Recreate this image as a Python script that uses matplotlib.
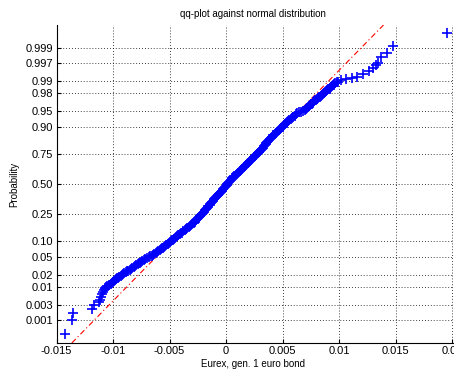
import math
import matplotlib
matplotlib.use('Agg')
import matplotlib.pyplot as plt

plt.rcParams['font.family'] = ['Liberation Sans', 'DejaVu Sans']

# sorted returns (x) and their standard normal quantiles (y position of normplot)
ret = [-0.01425, -0.01366, -0.01351, -0.01183, -0.01168, -0.01121, -0.01115, -0.01109,
       -0.01095, -0.01088,
       -0.01080, -0.01068, -0.01050, -0.01020, -0.01001, -0.00985, -0.00965, -0.00943,
       -0.00922, -0.00900, -0.00877, -0.00853, -0.00830, -0.00806, -0.00783, -0.00762,
       -0.00740, -0.00713, -0.00684, -0.00657, -0.00633, -0.00610, -0.00588, -0.00568,
       -0.00547, -0.00527, -0.00508, -0.00489, -0.00470, -0.00451, -0.00431, -0.00411,
       -0.00392, -0.00366, -0.00341, -0.00318, -0.00297, -0.00277, -0.00258, -0.00240,
       -0.00224, -0.00207, -0.00189, -0.00172, -0.00155, -0.00138, -0.00122, -0.00105,
       -0.00088, -0.00071, -0.00055, -0.00038, -0.00020, -0.00003, 0.00013, 0.00030,
       0.00048, 0.00066, 0.00085, 0.00105, 0.00125, 0.00145, 0.00164, 0.00183,
       0.00203, 0.00224, 0.00245, 0.00266, 0.00286, 0.00304, 0.00320, 0.00335,
       0.00350, 0.00366, 0.00382, 0.00400, 0.00420, 0.00440, 0.00460, 0.00480,
       0.00500, 0.00520, 0.00539, 0.00560, 0.00583, 0.00607, 0.00632, 0.00660,
       0.00695, 0.00715, 0.00733, 0.00750, 0.00766, 0.00783, 0.00801, 0.00820,
       0.00840, 0.00860, 0.00879, 0.00898, 0.00916, 0.00933, 0.00950, 0.00968,
       0.00995, 0.01022,
       0.01060, 0.01112, 0.01162, 0.01215, 0.01268, 0.01304, 0.01327, 0.01342,
       0.01372, 0.01422, 0.01475, 0.01958,
       # points lying between the ones above inside the dense band
       -0.01074, -0.01060, -0.01035, -0.01010, -0.00993, -0.00975, -0.00954, -0.00932,
       -0.00911, -0.00889, -0.00865, -0.00841, -0.00818, -0.00794, -0.00772, -0.00751,
       -0.00727, -0.00698, -0.00670, -0.00645, -0.00621, -0.00599, -0.00578, -0.00557,
       -0.00537, -0.00517, -0.00498, -0.00479, -0.00460, -0.00441, -0.00421, -0.00401,
       -0.00379, -0.00353, -0.00329, -0.00307, -0.00287, -0.00267, -0.00249, -0.00232,
       -0.00215, -0.00198, -0.00180, -0.00163, -0.00146, -0.00130, -0.00113, -0.00096,
       -0.00079, -0.00063, -0.00046, -0.00029, -0.00011, 0.00005, 0.00021, 0.00039,
       0.00057, 0.00075, 0.00095, 0.00115, 0.00135, 0.00155, 0.00173, 0.00193,
       0.00213, 0.00234, 0.00255, 0.00276, 0.00295, 0.00312, 0.00327, 0.00342,
       0.00358, 0.00374, 0.00391, 0.00410, 0.00430, 0.00450, 0.00470, 0.00490,
       0.00510, 0.00530, 0.00549, 0.00571, 0.00595, 0.00619, 0.00646, 0.00678,
       0.00705, 0.00724, 0.00741, 0.00758, 0.00774, 0.00792, 0.00810, 0.00830,
       0.00850, 0.00869, 0.00888, 0.00907, 0.00924, 0.00941, 0.00959, 0.00980]
quant = [-3.40, -3.08, -2.93, -2.83, -2.75, -2.68, -2.62, -2.56,
         -2.49, -2.44,
         -2.40, -2.35, -2.30, -2.26, -2.22, -2.18, -2.14, -2.10,
         -2.06, -2.02, -1.98, -1.94, -1.90, -1.86, -1.82, -1.78,
         -1.74, -1.70, -1.66, -1.62, -1.58, -1.54, -1.50, -1.46,
         -1.42, -1.38, -1.34, -1.30, -1.26, -1.22, -1.18, -1.14,
         -1.10, -1.05, -1.00, -0.95, -0.90, -0.85, -0.80, -0.75,
         -0.70, -0.65, -0.60, -0.55, -0.50, -0.45, -0.40, -0.35,
         -0.30, -0.25, -0.20, -0.15, -0.10, -0.05, 0.00, 0.05,
         0.10, 0.15, 0.20, 0.25, 0.30, 0.35, 0.40, 0.45,
         0.50, 0.55, 0.60, 0.65, 0.70, 0.75, 0.80, 0.85,
         0.90, 0.95, 1.00, 1.05, 1.10, 1.15, 1.20, 1.25,
         1.30, 1.35, 1.40, 1.45, 1.50, 1.55, 1.60, 1.64,
         1.68, 1.72, 1.76, 1.80, 1.84, 1.88, 1.92, 1.96,
         2.00, 2.04, 2.08, 2.12, 2.16, 2.20, 2.24, 2.28,
         2.32, 2.35,
         2.37, 2.39, 2.43, 2.50, 2.56, 2.62, 2.69, 2.74,
         2.88, 2.97, 3.12, 3.42,
         -2.375, -2.325, -2.28, -2.24, -2.20, -2.16, -2.12, -2.08,
         -2.04, -2.00, -1.96, -1.92, -1.88, -1.84, -1.80, -1.76,
         -1.72, -1.68, -1.64, -1.60, -1.56, -1.52, -1.48, -1.44,
         -1.40, -1.36, -1.32, -1.28, -1.24, -1.20, -1.16, -1.12,
         -1.075, -1.025, -0.975, -0.925, -0.875, -0.825, -0.775, -0.725,
         -0.675, -0.625, -0.575, -0.525, -0.475, -0.425, -0.375, -0.325,
         -0.275, -0.225, -0.175, -0.125, -0.075, -0.025, 0.025, 0.075,
         0.125, 0.175, 0.225, 0.275, 0.325, 0.375, 0.425, 0.475,
         0.525, 0.575, 0.625, 0.675, 0.725, 0.775, 0.825, 0.875,
         0.925, 0.975, 1.025, 1.075, 1.125, 1.175, 1.225, 1.275,
         1.325, 1.375, 1.425, 1.475, 1.525, 1.575, 1.62, 1.66,
         1.70, 1.74, 1.78, 1.82, 1.86, 1.90, 1.94, 1.98,
         2.02, 2.06, 2.10, 2.14, 2.18, 2.22, 2.26, 2.30]

# reference line (normplot fit through quartiles)
line_x = [-0.01364, 0.01394]
line_q = [-3.6, 3.6]

prob_ticks = [0.001, 0.003, 0.01, 0.02, 0.05, 0.10, 0.25, 0.50,
              0.75, 0.90, 0.95, 0.98, 0.99, 0.997, 0.999]
prob_labels = ['0.001', '0.003', '0.01', '0.02', '0.05', '0.10', '0.25', '0.50',
               '0.75', '0.90', '0.95', '0.98', '0.99', '0.997', '0.999']
x_ticks = [-0.015, -0.01, -0.005, 0, 0.005, 0.01, 0.015, 0.02]
x_labels = ['-0.015', '-0.01', '-0.005', '0', '0.005', '0.01', '0.015', '0.02']


def norm_ppf(p):
    lo, hi = -10.0, 10.0
    for _ in range(80):
        mid = 0.5 * (lo + hi)
        if 0.5 * (1 + math.erf(mid / math.sqrt(2))) < p:
            lo = mid
        else:
            hi = mid
    return 0.5 * (lo + hi)


W, H = 454, 371
fig = plt.figure(figsize=(W / 100, H / 100), dpi=100)
ax = fig.add_axes([56.5 / W, 28.5 / H, 452 / W, 317.5 / H])

ax.plot(line_x, line_q, color='r', lw=0.8, ls=(0, (5, 2.5, 1, 2.5)), zorder=2)
ax.plot(ret, quant, '+', color='b', ms=6.5, mew=1.2, zorder=3)

ax.set_xlim(-0.015, 0.025)
ax.set_ylim(-3.59, 3.6)
ax.set_xticks(x_ticks)
ax.set_xticklabels(x_labels)
ax.set_yticks([norm_ppf(p) for p in prob_ticks])
ax.set_yticklabels(prob_labels)
ax.grid(True, ls=(0, (1, 2.5)), color='k', lw=0.6)
ax.set_axisbelow(True)
for s in ['top', 'right']:
    ax.spines[s].set_visible(False)
for s in ['left', 'bottom']:
    ax.spines[s].set_linewidth(0.8)
ax.tick_params(direction='in', length=3, labelsize=8, pad=2.5)

fig.text(253 / W, 1 - 14 / H, 'qq-plot against normal distribution',
         ha='center', va='center', fontsize=7)
fig.text(253 / W, 1 - 364 / H, 'Eurex, gen. 1 euro bond',
         ha='center', va='center', fontsize=7)
fig.text(14 / W, 1 - 184 / H, 'Probability', rotation=90,
         ha='center', va='center', fontsize=7)

fig.savefig('out.png', dpi=100)
